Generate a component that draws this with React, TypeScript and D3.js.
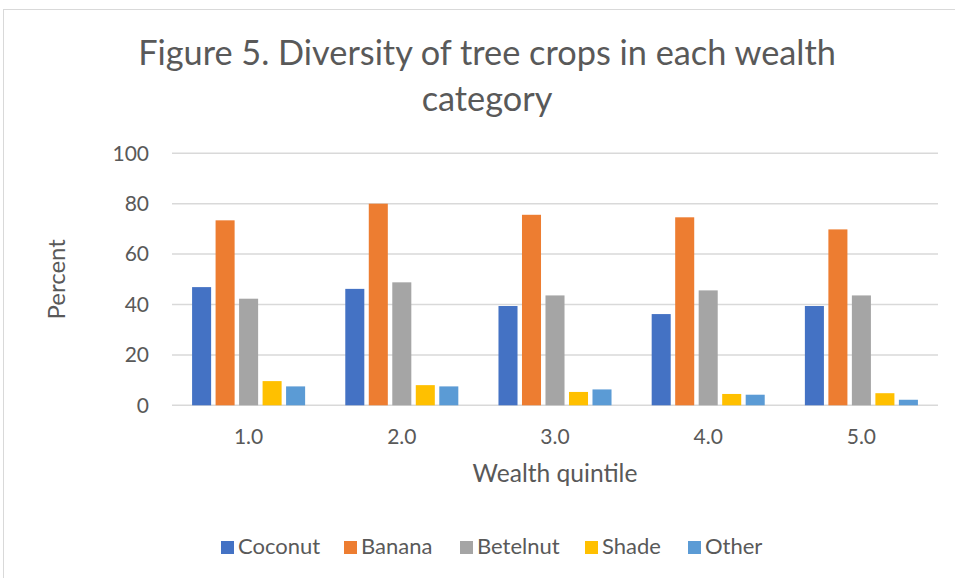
import React from "react";
import * as d3 from "d3";

const categories = ["1.0", "2.0", "3.0", "4.0", "5.0"];
const seriesNames = ["Coconut", "Banana", "Betelnut", "Shade", "Other"];
const coconut = [46.9, 46.2, 39.4, 36.2, 39.4];
const banana = [73.4, 80.0, 75.6, 74.6, 69.8];
const betelnut = [42.3, 48.8, 43.6, 45.6, 43.6];
const shade = [9.6, 8.0, 5.3, 4.5, 4.8];
const other = [7.5, 7.5, 6.3, 4.2, 2.2];
const yTicks = [0, 20, 40, 60, 80, 100];
const colors = ["#4472C4", "#ED7D31", "#A5A5A5", "#FFC000", "#5B9BD5"];

const W = 955;
const H = 578;
const FONT = "Lato, 'Open Sans', sans-serif";
const TXT = "#595959";

export default function App() {
  const seriesValues = [coconut, banana, betelnut, shade, other];
  const left = 172, right = 938, top = 153.3, bottom = 405.3;
  const x0 = d3.scaleBand<string>().domain(categories).range([left, right]).paddingInner(0.233).paddingOuter(0.1165);
  const x1 = d3.scaleBand<string>().domain(seriesNames).range([0, x0.bandwidth()]).paddingInner(0.19).paddingOuter(0.095);
  const y = d3.scaleLinear().domain([0, 100]).range([bottom, top]);

  const legendX = [221, 344, 460, 585, 688];

  return (
    <svg width={W} height={H} style={{ position: "absolute", left: 0, top: 0, background: "#fff" }} fontFamily={FONT}>
      <rect x={3.5} y={9.5} width={1000} height={700} fill="#fff" stroke="#d9d9d9" strokeWidth={1} />
      <text x={487} y={65} textAnchor="middle" fontSize={34.3} fill={TXT}>Figure 5. Diversity of tree crops in each wealth</text>
      <text x={487} y={111} textAnchor="middle" fontSize={34.3} fill={TXT}>category</text>
      {yTicks.map((t) => (
        <g key={t}>
          <line x1={left} x2={right} y1={y(t)} y2={y(t)} stroke="#d9d9d9" strokeWidth={1.5} />
          <text x={149} y={y(t)} dy="0.35em" textAnchor="end" fontSize={21} fill={TXT}>{t}</text>
        </g>
      ))}
      {categories.map((c, ci) => (
        <g key={c}>
          {seriesNames.map((s, si) => {
            const v = seriesValues[si][ci];
            return (
              <rect key={s} x={(x0(c) as number) + (x1(s) as number)} y={y(v)} width={x1.bandwidth()} height={y(0) - y(v)} fill={colors[si]} />
            );
          })}
          <text x={(x0(c) as number) + x0.bandwidth() / 2} y={444} textAnchor="middle" fontSize={21} fill={TXT}>{c}</text>
        </g>
      ))}
      <text x={(left + right) / 2} y={482} textAnchor="middle" fontSize={24.6} fill={TXT}>Wealth quintile</text>
      <text transform={`translate(65,${(top + bottom) / 2}) rotate(-90)`} textAnchor="middle" fontSize={24} fill={TXT}>Percent</text>
      {seriesNames.map((s, i) => (
        <g key={s}>
          <rect x={legendX[i]} y={541} width={13} height={13} fill={colors[i]} />
          <text x={legendX[i] + 17} y={554} fontSize={22} fill={TXT}>{s}</text>
        </g>
      ))}
    </svg>
  );
}
